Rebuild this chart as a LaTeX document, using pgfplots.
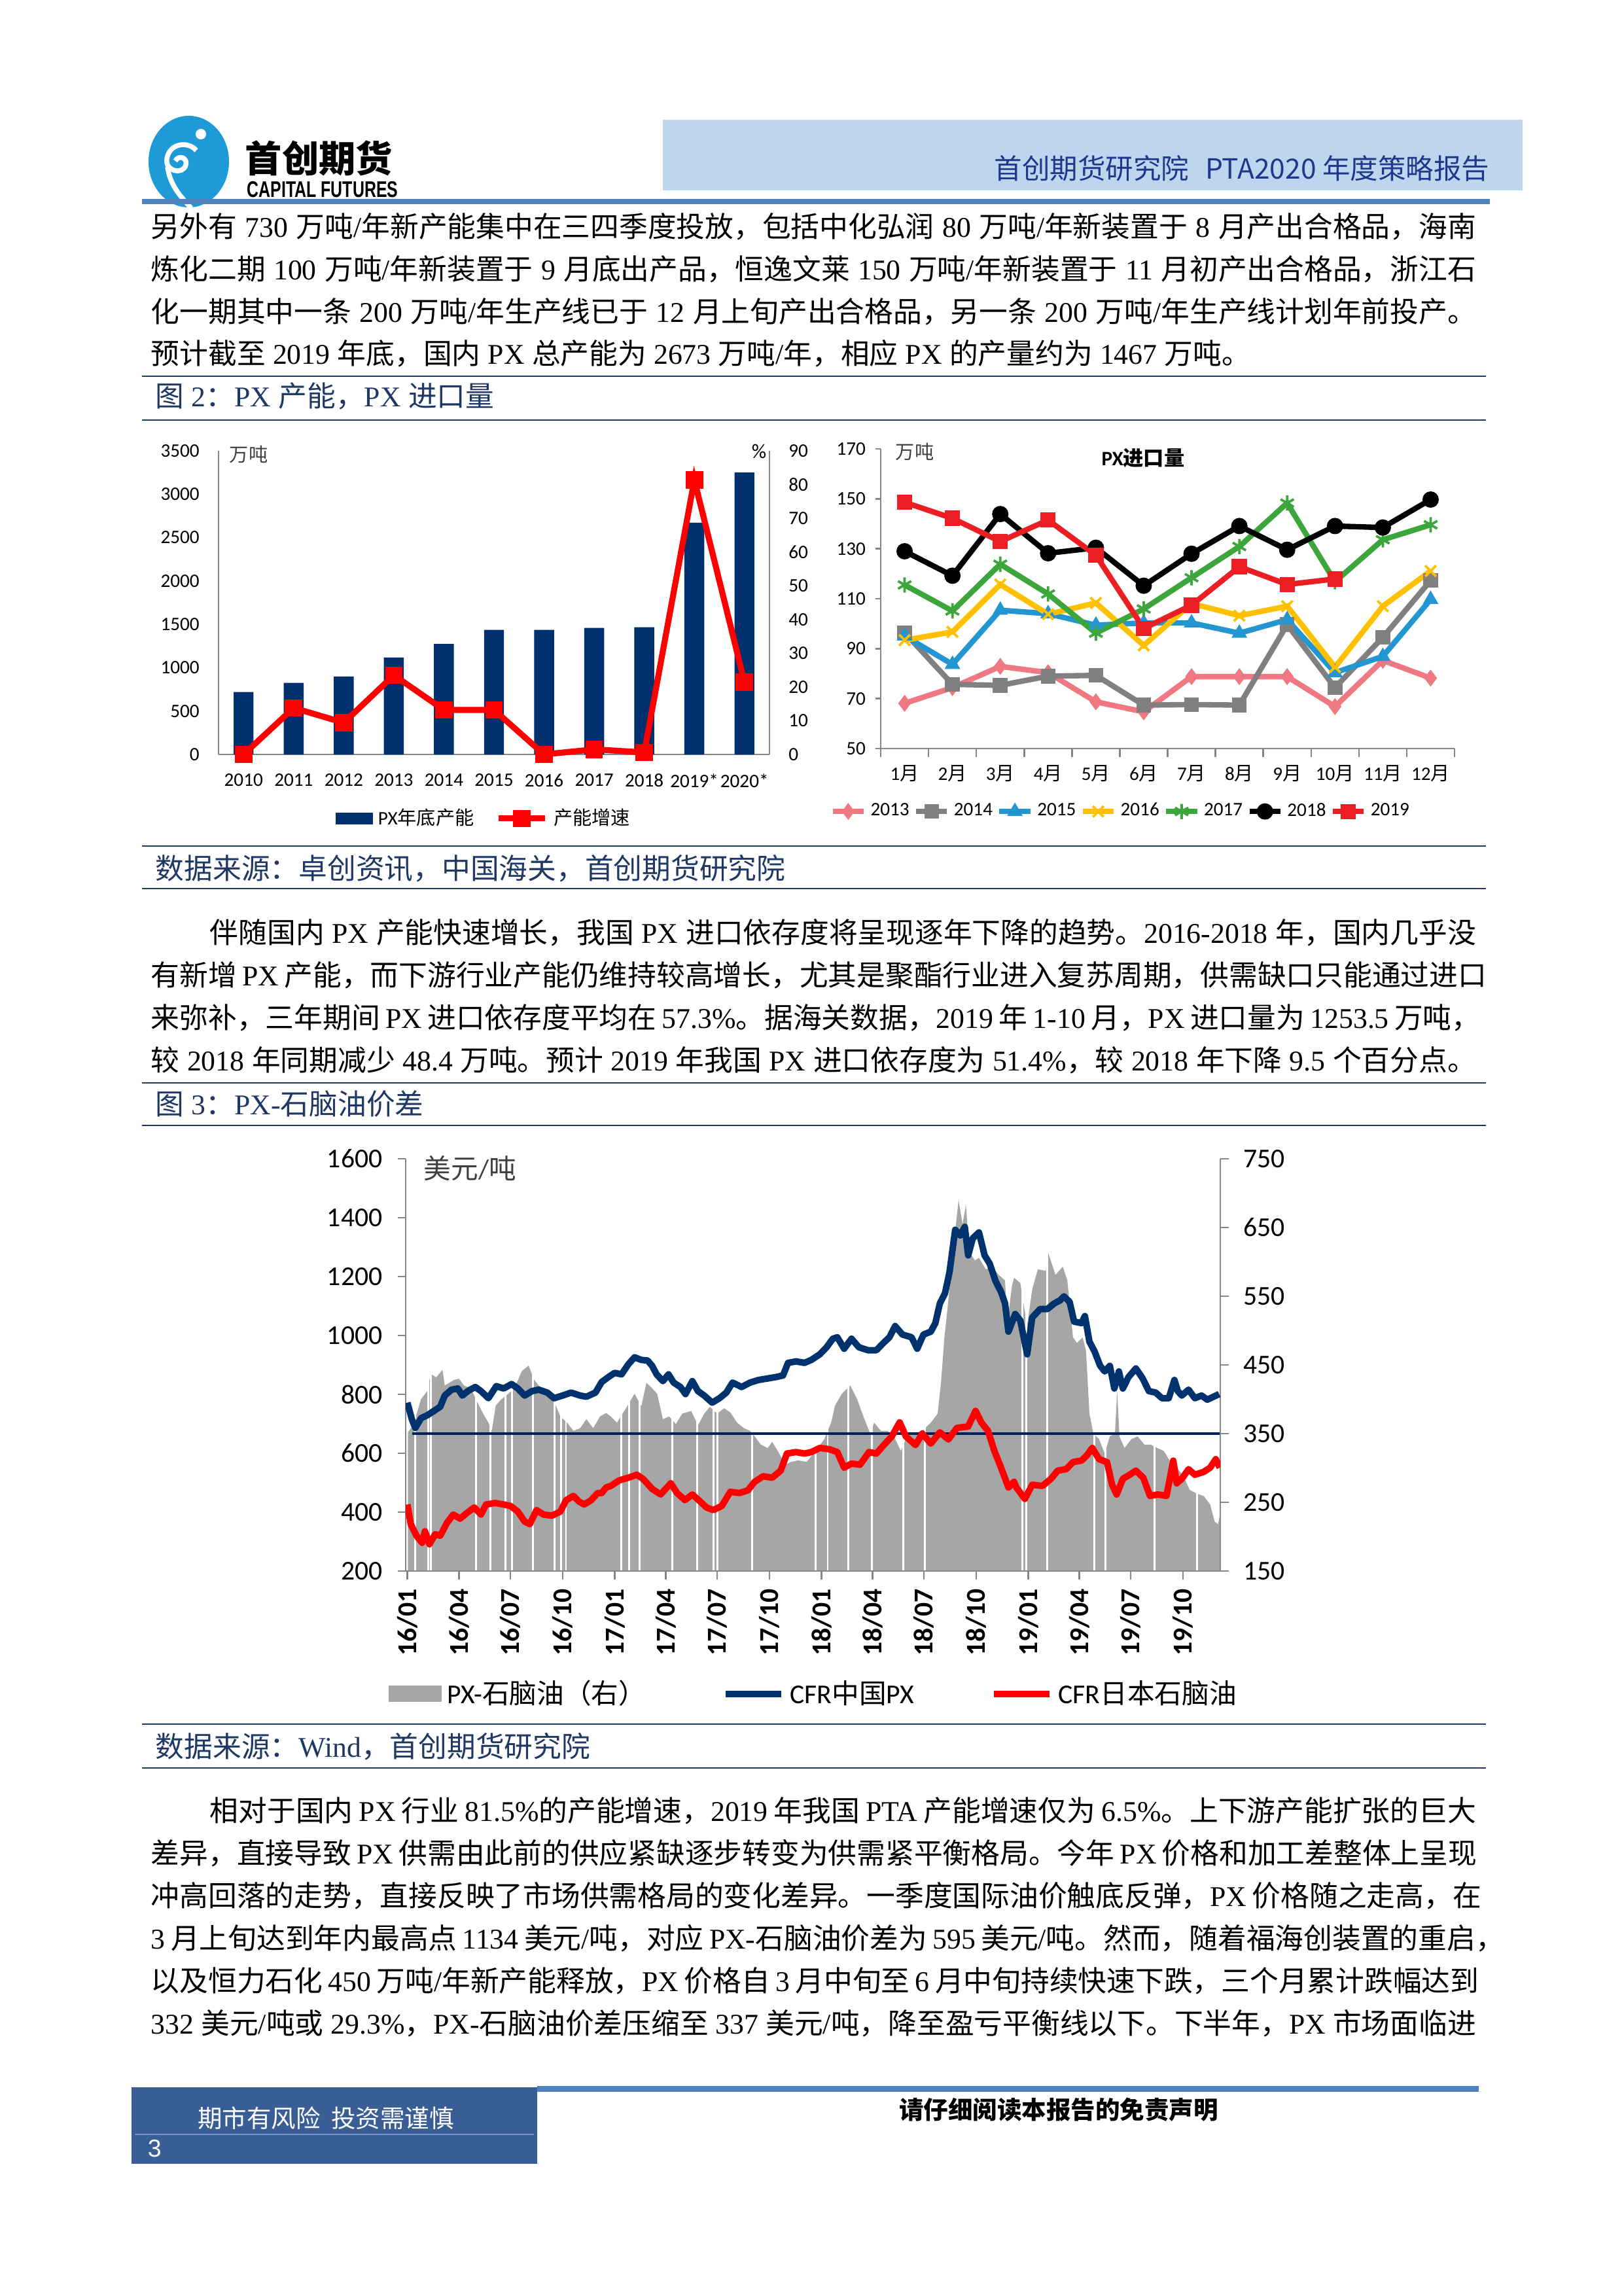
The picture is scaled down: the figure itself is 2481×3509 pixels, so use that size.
\documentclass[border=0pt]{standalone}
\usepackage{graphicx}
\usepackage{pgfplots}
\pgfplotsset{compat=1.18}
\usepackage{pgfplotstable}
\usepackage{fontspec}
\setmainfont{Liberation Serif}
\setsansfont{Carlito}
\newfontfamily\cjkfont{Noto Sans CJK SC}
\newfontfamily\arialfont{Liberation Sans}
\def\latinfont{\rmfamily}
\XeTeXinterchartokenstate=1
\newcount\mycc
\mycc="2E80
\loop \XeTeXcharclass\mycc=7 \ifnum\mycc<"9FFF \advance\mycc by 1 \repeat
\mycc="FF00
\loop \XeTeXcharclass\mycc=7 \ifnum\mycc<"FFEF \advance\mycc by 1 \repeat
\XeTeXinterchartoks 0 7 = {\cjkfont}
\XeTeXinterchartoks 4095 7 = {\cjkfont}
\XeTeXinterchartoks 7 0 = {\latinfont}
\XeTeXinterchartoks 7 4095 = {\latinfont}
\XeTeXlinebreaklocale "zh"
\XeTeXlinebreakskip=0pt plus 1pt minus 0.9pt

\definecolor{hdrbox}{RGB}{189,214,238}
\definecolor{hdrtext}{RGB}{32,56,140}
\definecolor{rulebl}{RGB}{79,129,189}
\definecolor{capblue}{RGB}{31,56,100}
\definecolor{logoblue}{RGB}{30,155,215}
\definecolor{footbox}{RGB}{57,94,150}
\definecolor{footline}{RGB}{120,150,200}
\definecolor{axgray}{RGB}{134,134,134}
\definecolor{barnavy}{RGB}{0,48,110}
\definecolor{pxnavy}{RGB}{0,51,110}
\definecolor{c13}{RGB}{240,120,130}
\definecolor{c14}{RGB}{128,128,128}
\definecolor{c15}{RGB}{35,150,210}
\definecolor{c16}{RGB}{255,192,0}
\definecolor{c17}{RGB}{60,165,60}
\definecolor{c19}{RGB}{235,30,35}
\definecolor{spreadgray}{RGB}{166,166,166}
\definecolor{beline}{RGB}{0,32,96}

\newcommand\bodyfont{\fontsize{10.5}{12}\selectfont\spaceskip=2.7pt plus 1.5pt minus 0.7pt\relax\xspaceskip=2.7pt plus 1.5pt minus 0.7pt\relax}
\newcommand\bl[4]{\node[anchor=base west,inner sep=0pt,font=\bodyfont] at (#1,#2) {\makebox[#3][s]{#4}};}
\newcommand\blnat[3]{\node[anchor=base west,inner sep=0pt,font=\bodyfont] at (#1,#2) {#3};}
\newcommand\figcap[2]{\node[anchor=base west,inner sep=0pt,font=\bodyfont,text=capblue] at (237,#1) {#2};}
\newcommand\hr[1]{\draw[capblue,line width=0.7pt] (217,#1) -- (2271,#1);}

\pgfplotstableread{
x cap gr
0 719 0
1 826 13.8
2 898 9.4
3 1117 23.5
4 1273 13.2
5 1436 13.2
6 1436 0
7 1458 1.5
8 1467 0.6
9 2671 81.4
10 3250 21.5
}\captab

\pgfplotstableread{
m y13 y14 y15 y16 y17 y18 y19
1 68.1 96.4 95.1 93.4 115.5 129.0 148.6
2 74.4 75.7 83.7 96.7 105.1 119.2 142.2
3 82.9 75.3 105.4 115.7 123.8 143.9 132.9
4 80.4 79.0 104.0 103.8 111.9 128.2 141.5
5 68.7 79.3 99.4 108.3 96.2 130.4 127.4
6 64.7 67.4 100.3 91.3 105.9 115.2 98.1
7 78.8 67.6 100.3 108.1 118.4 128.0 107.4
8 78.8 67.4 96.2 103.2 130.9 139.1 122.8
9 78.8 99.6 101.6 107.0 148.3 129.6 115.7
10 66.8 74.4 80.4 82.6 116.8 139.1 117.9
11 85.3 94.5 86.9 107.0 133.6 138.5 nan
12 78.2 117.3 109.7 121.1 139.6 149.7 nan
}\imptab

\pgfplotstableread{
d v
0 772
8 715
14 686
24 719
35 729
47 744
58 758
66 796
78 816
89 820
97 796
108 813
120 825
130 811
143 787
157 828
170 820
184 835
195 820
207 796
220 811
232 816
247 806
259 787
274 796
289 806
305 796
316 792
332 806
343 842
355 859
366 873
378 868
390 902
401 926
413 917
424 915
432 897
440 868
451 845
461 868
470 840
482 825
491 801
503 845
513 811
524 796
538 772
551 787
563 806
574 840
590 825
605 840
620 849
636 854
651 859
663 864
672 907
686 912
701 907
713 917
728 936
740 960
751 989
759 994
771 955
784 989
797 960
813 950
828 950
840 974
851 994
861 1032
874 1003
890 994
900 955
911 1003
924 1013
932 1042
940 1109
949 1143
957 1215
967 1359
976 1340
984 1369
990 1272
998 1330
1009 1350
1019 1272
1028 1244
1038 1186
1048 1148
1055 1109
1061 1013
1073 1073
1082 1051
1094 936
1103 1061
1117 1090
1130 1090
1142 1109
1152 1119
1159 1133
1169 1114
1177 1047
1190 1042
1196 1066
1204 979
1213 946
1223 897
1231 878
1240 897
1248 820
1256 878
1263 820
1273 859
1286 888
1298 854
1309 811
1321 806
1332 787
1344 787
1354 849
1360 811
1367 796
1379 816
1390 787
1402 796
1412 782
1423 792
1433 801
}\pxtab

\pgfplotstableread{
d v
0 426
6 359
16 320
26 296
31 335
39 291
49 325
58 320
70 364
81 392
93 378
105 397
118 416
130 392
139 426
155 431
170 426
182 421
195 402
207 368
216 359
228 407
240 392
255 388
270 402
280 440
293 455
303 436
312 426
324 440
336 465
343 465
351 484
359 489
374 508
390 517
405 527
416 513
432 479
447 460
465 498
476 465
490 441
503 460
517 436
528 416
540 407
555 421
570 469
586 465
601 474
613 503
628 522
644 517
659 541
670 599
686 604
701 599
713 604
728 618
744 614
759 604
771 551
784 565
799 561
815 604
828 599
841 628
855 657
869 705
880 657
897 628
909 667
924 633
940 671
955 647
970 686
990 691
1003 744
1013 705
1025 676
1036 609
1048 551
1061 484
1071 503
1075 484
1090 445
1103 493
1121 489
1136 513
1148 541
1163 546
1175 570
1190 575
1200 594
1209 618
1221 580
1235 570
1244 493
1252 460
1263 513
1275 527
1286 541
1299 517
1311 455
1325 460
1340 455
1352 575
1358 498
1367 513
1379 546
1390 527
1406 537
1417 551
1427 580
1434 551
}\naptab

\pgfplotstableread{
d s
1 352
8 360
14 372
24 400
35 412
41 437
51 432
62 443
66 420
82 428
91 430
100 420
112 416
124 395
135 377
143 366
149 354
156 391
166 400
178 408
189 416
202 441
214 449
224 428
236 416
251 408
262 391
270 375
282 366
293 354
305 358
316 371
328 358
340 375
351 380
359 375
370 366
386 387
401 408
413 390
422 424
432 416
441 408
451 371
462 375
474 364
485 379
501 383
513 362
524 379
534 389
547 379
559 387
570 381
582 366
594 358
605 354
613 346
624 334
636 329
644 338
655 323
667 305
678 309
690 311
705 309
717 321
736 342
748 366
755 391
767 408
782 420
794 400
805 375
817 350
824 366
836 354
848 354
859 346
871 325
882 346
894 350
909 354
924 366
936 379
942 424
948 490
955 544
963 614
973 690
980 655
986 683
992 614
1002 602
1009 606
1021 589
1032 593
1044 581
1055 573
1059 510
1067 564
1071 577
1082 569
1094 507
1103 560
1113 589
1127 587
1131 614
1144 581
1157 593
1165 573
1175 490
1182 482
1192 490
1198 470
1204 379
1211 350
1221 342
1231 321
1240 346
1249 350
1253 412
1257 346
1266 329
1278 342
1289 346
1301 334
1312 334
1324 329
1335 325
1347 309
1358 301
1370 288
1381 268
1393 263
1406 259
1417 247
1425 222
1431 218
1434 230
}\sptab

\pgfplotsset{
  pagechart/.style={
    scale only axis,
    axis line style={-, draw=axgray, line width=0.6pt},
    tick style={draw=axgray, line width=0.6pt},
    /pgf/number format/assume math mode=true,
    /pgf/number format/1000 sep={},
  },
  c3common/.style={
    pagechart,
    at={(c3)}, anchor=south west,
    width=298.8pt, height=151.2pt,
    xmin=-3, xmax=1435,
    tick align=outside, major tick length=3pt,
    ticklabel style={font=\sffamily\fontsize{10}{12}\selectfont},
  },
}

\begin{document}
\begin{tikzpicture}
\begin{scope}[x=0.24pt,y=-0.24pt]
\path (0,0) rectangle (2481,3509);
% ---------- header ----------
\fill[logoblue] (288.5,247) ellipse [x radius=61.5, y radius=70];
\fill[white] (307,205) circle [radius=8];
\draw[white,line width=1.8pt] (300,230) .. controls (286,214) and (258,220) .. (255,243) .. controls (252,262) and (280,268) .. (284,252) .. controls (287,241) and (273,236) .. (268,246);
\draw[white,line width=1.8pt] (256,255) .. controls (260,285) and (278,302) .. (292,318);
\node[anchor=west,inner sep=0pt,font={\def\latinfont{\cjkfont}\cjkfont\bfseries\fontsize{13.5}{14}\selectfont}] at (374,242) {首创期货};
\node[anchor=west,inner sep=0pt] at (377,289.5) {\scalebox{0.72}[1]{\arialfont\bfseries\fontsize{8.3}{9}\selectfont CAPITAL FUTURES}};
\fill[hdrbox] (1013,183) rectangle (2327,291);
\node[anchor=east,inner sep=0pt,text=hdrtext,font={\def\latinfont{\cjkfont}\cjkfont\fontsize{10.2}{12}\selectfont}] at (2277,257) {首创期货研究院\hspace{6pt}PTA2020 年度策略报告};
\fill[rulebl] (217,304) rectangle (2277,312);
% ---------- paragraph 1 ----------
\bl{230}{363}{486pt}{另外有 730 万吨/年新产能集中在三四季度投放，包括中化弘润 80 万吨/年新装置于 8 月产出合格品，海南}
\bl{230}{428}{486pt}{炼化二期 100 万吨/年新装置于 9 月底出产品，恒逸文莱 150 万吨/年新装置于 11 月初产出合格品，浙江石}
\bl{230}{493}{486pt}{化一期其中一条 200 万吨/年生产线已于 12 月上旬产出合格品，另一条 200 万吨/年生产线计划年前投产。}
\blnat{230}{557}{预计截至 2019 年底，国内 PX 总产能为 2673 万吨/年，相应 PX 的产量约为 1467 万吨。}
\hr{575}
\figcap{622}{图 2：PX 产能，PX 进口量}
\hr{642}
\hr{1293}
\figcap{1343}{数据来源：卓创资讯，中国海关，首创期货研究院}
\hr{1358}
% ---------- paragraph 2 ----------
\bl{320}{1441}{464.4pt}{伴随国内 PX 产能快速增长，我国 PX 进口依存度将呈现逐年下降的趋势。2016-2018 年，国内几乎没}
\bl{230}{1506}{486pt}{有新增 PX 产能，而下游行业产能仍维持较高增长，尤其是聚酯行业进入复苏周期，供需缺口只能通过进口}
\bl{230}{1571}{486pt}{来弥补，三年期间 PX 进口依存度平均在 57.3\%。据海关数据，2019 年 1-10 月，PX 进口量为 1253.5 万吨，}
\bl{230}{1636}{486pt}{较 2018 年同期减少 48.4 万吨。预计 2019 年我国 PX 进口依存度为 51.4\%，较 2018 年下降 9.5 个百分点。}
\hr{1655}
\figcap{1703}{图 3：PX-石脑油价差}
\hr{1720}
\hr{2635}
\figcap{2685}{数据来源：Wind，首创期货研究院}
\hr{2702}
% ---------- paragraph 3 ----------
\bl{320}{2783}{464.4pt}{相对于国内 PX 行业 81.5\%的产能增速，2019 年我国 PTA 产能增速仅为 6.5\%。上下游产能扩张的巨大}
\bl{230}{2848}{486pt}{差异，直接导致 PX 供需由此前的供应紧缺逐步转变为供需紧平衡格局。今年 PX 价格和加工差整体上呈现}
\bl{230}{2913}{486pt}{冲高回落的走势，直接反映了市场供需格局的变化差异。一季度国际油价触底反弹，PX 价格随之走高，在}
\bl{230}{2978}{486pt}{3 月上旬达到年内最高点 1134 美元/吨，对应 PX-石脑油价差为 595 美元/吨。然而，随着福海创装置的重启，}
\bl{230}{3043}{486pt}{以及恒力石化 450 万吨/年新产能释放，PX 价格自 3 月中旬至 6 月中旬持续快速下跌，三个月累计跌幅达到}
\bl{230}{3108}{486pt}{332 美元/吨或 29.3\%，PX-石脑油价差压缩至 337 美元/吨，降至盈亏平衡线以下。下半年，PX 市场面临进}
% ---------- footer ----------
\fill[footbox] (201,3190) rectangle (821,3307);
\draw[footline,line width=0.6pt] (206,3262) -- (816,3262);
\fill[rulebl] (821,3188) rectangle (2260,3197);
\node[text=white,inner sep=0pt,font={\def\latinfont{\cjkfont}\cjkfont\fontsize{9}{10}\selectfont}] at (498,3237) {期市有风险\hspace{4pt}投资需谨慎};
\node[text=white,anchor=west,inner sep=0pt,font=\arialfont\fontsize{9}{10}\selectfont] at (225,3284) {3};
\node[inner sep=0pt,font={\def\latinfont{\cjkfont}\cjkfont\bfseries\fontsize{9}{10}\selectfont}] at (1618,3224) {请仔细阅读本报告的免责声明};
% anchors for the charts
\coordinate (c2l) at (334,1153);
\coordinate (c2r) at (1346,1144);
\coordinate (c3) at (620,2401);
\end{scope}

\def\latinfont{\sffamily}
% ================= Chart 2 left: capacity =================
\begin{axis}[pagechart, at={(c2l)}, anchor=south west,
  width=202.08pt, height=111.36pt,
  xmin=-0.5, xmax=10.5, ymin=0, ymax=3500,
  axis x line*=bottom, axis y line*=left,
  axis line style={-},
  ytick={0,500,...,3500}, xtick={0,...,10},
  xticklabels={2010,2011,2012,2013,2014,2015,2016,2017,2018,2019*,2020*},
  major tick length=0pt,
  ticklabel style={font=\sffamily\fontsize{7}{8}\selectfont},
  yticklabel style={xshift=-3.5pt},
  xticklabel style={yshift=-3.5pt},
  ybar, bar width=7.3pt,
]
\addplot[fill=barnavy, draw=none] table[x=x,y=cap] {\captab};
\end{axis}
\begin{axis}[pagechart, at={(c2l)}, anchor=south west,
  width=202.08pt, height=111.36pt,
  xmin=-0.5, xmax=10.5, ymin=0, ymax=90,
  axis y line*=right, axis x line=none,
  axis line style={-},
  ytick={0,10,...,90},
  major tick length=0pt,
  ticklabel style={font=\sffamily\fontsize{7}{8}\selectfont},
  yticklabel style={xshift=3.5pt},
  clip=false,
  legend style={at={(0.485,-0.211)}, anchor=center, legend columns=2, draw=none, fill=none,
    font=\sffamily\fontsize{7}{8}\selectfont,
    /tikz/every even column/.append style={column sep=6pt}},
]
\addlegendimage{legend image code/.code={\fill[barnavy] (0cm,-0.07cm) rectangle (0.46cm,0.07cm);}}
\addlegendentry{PX年底产能}
\addplot[red, line width=2.2pt, mark=square*, mark size=3pt, mark options={line width=0.4pt}] table[x=x,y=gr] {\captab};
\addlegendentry{产能增速}
\end{axis}

% ================= Chart 2 right: PX imports =================
\begin{axis}[pagechart, at={(c2r)}, anchor=south west,
  width=210.48pt, height=109.92pt,
  xmin=0.5, xmax=12.5, ymin=50, ymax=170,
  axis x line*=bottom, axis y line*=left,
  axis line style={-},
  ytick={50,70,...,170}, xtick={1,...,12},
  xticklabels={1月,2月,3月,4月,5月,6月,7月,8月,9月,10月,11月,12月},
  minor xtick={0.5,1.5,...,12.5},
  major x tick style={draw=none},
  tick align=outside, major tick length=2pt, minor tick length=3pt,
  ticklabel style={font=\sffamily\fontsize{7}{8}\selectfont},
  xticklabel style={yshift=-0.6pt},
  clip=false,
  legend style={at={(0.42,-0.21)}, anchor=center, legend columns=7, draw=none, fill=none,
    font=\sffamily\fontsize{7}{8}\selectfont, inner xsep=1pt,
    nodes={inner xsep=1.5pt}},
  legend image code/.code={\draw[mark repeat=2,mark phase=2,#1] plot coordinates {(0cm,0cm) (0.2cm,0cm) (0.4cm,0cm)};},
]
\addplot[c13, line width=2pt, mark=diamond*, mark size=2.8pt, mark options={line width=0.4pt}] table[x=m,y=y13] {\imptab};
\addlegendentry{2013}
\addplot[c14, line width=2pt, mark=square*, mark size=2.5pt, mark options={line width=0.4pt}] table[x=m,y=y14] {\imptab};
\addlegendentry{2014}
\addplot[c15, line width=2pt, mark=triangle*, mark size=2.9pt, mark options={line width=0.4pt}] table[x=m,y=y15] {\imptab};
\addlegendentry{2015}
\addplot[c16, line width=2pt, mark=x, mark size=2.8pt, mark options={line width=0.9pt}] table[x=m,y=y16] {\imptab};
\addlegendentry{2016}
\addplot[c17, line width=2pt, mark=asterisk, mark size=2.8pt, mark options={line width=0.9pt}] table[x=m,y=y17] {\imptab};
\addlegendentry{2017}
\addplot[black, line width=2pt, mark=*, mark size=2.8pt, mark options={line width=0.4pt}] table[x=m,y=y18] {\imptab};
\addlegendentry{2018}
\addplot[c19, line width=2pt, mark=square*, mark size=2.6pt, mark options={line width=0.4pt}] table[x=m,y=y19] {\imptab};
\addlegendentry{2019}
\end{axis}

% ================= Chart 3: PX - naphtha =================
\begin{axis}[c3common,
  axis y line*=right, axis x line*=bottom, axis line style={-},
  ymin=150, ymax=750, ytick={150,250,...,750},
  xtick={0,91,182,274,366,456,547,639,731,821,912,1004,1096,1186,1277,1369},
  xticklabels={16/01,16/04,16/07,16/10,17/01,17/04,17/07,17/10,18/01,18/04,18/07,18/10,19/01,19/04,19/07,19/10},
  xticklabel style={rotate=90, anchor=east, font=\sffamily\bfseries\fontsize{10}{12}\selectfont},
  yticklabel style={xshift=2pt},
  axis on top,
]
\addplot[fill=spreadgray, draw=none] table[x=d,y=s] {\sptab} \closedcycle;
\addplot[ycomb, white, line width=0.7pt, no markers] coordinates {
(14,750) (37,750) (41,750) (121,750) (147,750) (173,750) (185,750) (222,750) (260,750) (271,750) (280,750)
(378,750) (391,750) (410,750) (468,750) (512,750) (540,750) (547,750) (609,750)
(721,750) (742,750) (778,750) (820,750) (875,750) (913,750)
(1086,750) (1092,750) (1130,750) (1213,750) (1232,750) (1319,750) (1394,750)};
\addplot[beline, line width=0.9pt] coordinates {(8,350) (1435,350)};
\end{axis}
\begin{axis}[c3common,
  axis y line*=left, axis x line=none, axis line style={-},
  ymin=200, ymax=1600, ytick={200,400,...,1600},
  yticklabel style={xshift=-2pt},
  legend style={at={(0.503,-0.298)}, anchor=center, legend columns=3, draw=none, fill=none,
    font=\sffamily\fontsize{10}{12}\selectfont,
    /tikz/every even column/.append style={column sep=26pt}},
  legend image code/.code={\draw[#1] (0cm,0cm) -- (0.72cm,0cm);},
]
\addlegendimage{legend image code/.code={\fill[spreadgray] (0cm,-0.1cm) rectangle (0.67cm,0.1cm);}}
\addlegendentry{PX-石脑油（右）}
\addplot[pxnavy, line width=2.4pt, line join=round] table[x=d,y=v] {\pxtab};
\addlegendentry{CFR中国PX}
\addplot[red, line width=2.4pt, line join=round] table[x=d,y=v] {\naptab};
\addlegendentry{CFR日本石脑油}
\end{axis}

% chart annotations
\begin{scope}[x=0.24pt,y=-0.24pt]
\node[anchor=west,inner sep=0pt,font=\cjkfont\fontsize{7}{8}\selectfont,text=black!75] at (350,694) {万吨};
\node[inner sep=0pt,font=\sffamily\fontsize{7.5}{8}\selectfont] at (1160,690) {\%};
\node[anchor=west,inner sep=0pt,font=\cjkfont\fontsize{7}{8}\selectfont,text=black!75] at (1368,690) {万吨};
\node[inner sep=0pt,font=\sffamily\bfseries\fontsize{7.5}{9}\selectfont] at (1747,700) {PX进口量};
\node[anchor=west,inner sep=0pt,font=\sffamily\fontsize{10}{12}\selectfont,text=black!75] at (647,1786) {美元/吨};
\end{scope}
\end{tikzpicture}
\end{document}
